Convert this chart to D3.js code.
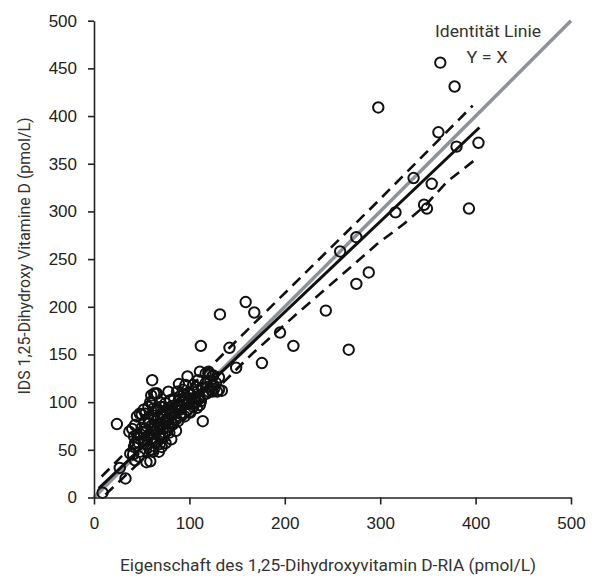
<!DOCTYPE html>
<html>
<head>
<meta charset="utf-8">
<script src="https://cdn.jsdelivr.net/npm/d3@7"></script>
<style>
  html, body { margin: 0; padding: 0; background: #fff; }
  svg { display: block; }
</style>
</head>
<body>
<svg id="chart" width="595" height="581"></svg>
<script>
// Method comparison: RIA (x) vs IDS (y), pmol/L
const ria = [
  363, 378, 298, 361, 380, 403, 335, 354, 316, 346, 349, 393, 275, 258, 288, 275,
  243, 159, 168, 195, 209, 267, 132, 112, 142, 149, 176, 124, 134, 114, 101, 120,
  117, 98, 109, 111, 120, 124, 131, 120, 111, 108, 100, 117, 125, 104, 104, 118,
  90, 80, 125, 129, 24, 33, 9, 27, 38, 43, 55, 61, 63, 78, 87, 81, 75, 69, 62, 59,
  37, 40, 43, 48, 41, 43, 45, 61, 64, 48, 45, 52, 57, 61, 75, 68, 60, 59, 66, 42,
  42, 47, 59, 54, 50, 71, 65,
  55, 60, 65, 70, 72, 75, 78, 82, 85, 88, 90, 92, 95, 97, 68, 66, 70, 74, 77, 83,
  86, 63, 58, 52, 56, 50, 53, 62, 67, 73, 80, 84, 94, 99, 102, 106, 110, 113, 96,
  93, 88, 76, 64, 71, 79, 85, 91, 100, 105, 57, 47, 52, 69, 82, 74, 62, 89, 107,
  60, 66,
  46, 49, 53, 56, 58, 61, 64, 67, 69, 72, 76, 79, 81, 84, 87, 89, 92, 95, 98, 101,
  103, 106, 109, 112, 115, 119, 122, 126, 128, 131, 73, 77, 86, 65, 70
];
const ids = [
  456, 431, 409, 383, 368, 372, 335, 329, 299, 307, 303, 303, 273, 258, 236, 224,
  196, 205, 194, 173, 159, 155, 192, 159, 157, 136, 141, 111, 112, 80, 89, 130,
  130, 127, 123, 132, 132, 127, 113, 111, 97, 94, 90, 120, 118, 118, 95, 109,
  106, 88, 128, 111, 77, 20, 5, 31, 46, 39, 37, 123, 109, 111, 111, 61, 57, 56, 48, 38,
  69, 72, 76, 48, 45, 57, 66, 50, 57, 88, 85, 92, 95, 99, 99, 48, 107, 100, 109, 64,
  53, 43, 50, 88, 87, 53, 109,
  70, 75, 80, 85, 72, 78, 82, 90, 95, 80, 92, 100, 85, 98, 65, 72, 62, 68, 74, 77,
  70, 62, 66, 60, 55, 73, 79, 86, 92, 95, 102, 104, 108, 110, 104, 100, 106, 115, 118,
  113, 97, 90, 70, 77, 68, 84, 88, 100, 111, 82, 62, 68, 100, 96, 85, 93, 119, 116,
  62, 58,
  58, 66, 72, 63, 78, 68, 76, 84, 74, 88, 82, 94, 78, 88, 92, 102, 95, 104, 92, 108,
  98, 104, 112, 101, 108, 116, 122, 114, 120, 126, 63, 70, 82, 92, 95
];

// Fitted regression line and its dashed confidence limits
const fitX = [5, 404];
const fitY = [9.5, 388];
const upperX = [8, 125, 153, 295, 397];
const upperY = [22, 140, 168, 308, 411];
const lowerX = [12, 136, 165, 213, 265, 297, 325, 348, 370, 403];
const lowerY = [3, 121, 150, 193, 238, 266, 287, 307, 331, 357];

// Line of identity
const identityX = [0, 500];
const identityY = [0, 500];

const tickValuesX = [0, 100, 200, 300, 400, 500];
const tickValuesY = [0, 50, 100, 150, 200, 250, 300, 350, 400, 450, 500];

const svg = d3.select("#chart");
const x = d3.scaleLinear().domain([0, 500]).range([94, 571]);
const y = d3.scaleLinear().domain([0, 500]).range([497.5, 20.7]);

const line = d3.line().x(d => x(d[0])).y(d => y(d[1]));
const zip = (a, b) => a.map((v, i) => [v, b[i]]);

// identity line
svg.append("path")
  .attr("d", line(zip(identityX, identityY)))
  .attr("fill", "none")
  .attr("stroke", "#8f9296")
  .attr("stroke-width", 3.5);

// confidence limits
[zip(upperX, upperY), zip(lowerX, lowerY)].forEach(pts => {
  svg.append("path")
    .attr("d", line(pts))
    .attr("fill", "none")
    .attr("stroke", "#111")
    .attr("stroke-width", 2.6)
    .attr("stroke-dasharray", "11,7");
});

// regression line
svg.append("path")
  .attr("d", line(zip(fitX, fitY)))
  .attr("fill", "none")
  .attr("stroke", "#111")
  .attr("stroke-width", 3);

// data points
svg.append("g")
  .selectAll("circle")
  .data(zip(ria, ids))
  .join("circle")
  .attr("cx", d => x(d[0]))
  .attr("cy", d => y(d[1]))
  .attr("r", 5.2)
  .attr("fill", "none")
  .attr("stroke", "#111")
  .attr("stroke-width", 2);

// axes
const axisFont = "'Liberation Sans', Arial, sans-serif";
const gx = svg.append("g")
  .attr("transform", `translate(0,${y(0)})`)
  .call(d3.axisBottom(x).tickValues(tickValuesX).tickSize(7).tickSizeOuter(0).tickPadding(12));
const gy = svg.append("g")
  .attr("transform", `translate(${x(0)},0)`)
  .call(d3.axisLeft(y).tickValues(tickValuesY).tickSize(6).tickSizeOuter(0).tickPadding(11));

[gx, gy].forEach(g => {
  g.select(".domain").attr("stroke", "#222").attr("stroke-width", 1.6);
  g.selectAll(".tick line").attr("stroke", "#222").attr("stroke-width", 1.6);
  g.selectAll(".tick text")
    .attr("font-family", axisFont)
    .attr("font-size", 17)
    .attr("fill", "#222");
});

// titles
const titleFont = "Roboto, 'Open Sans', sans-serif";
svg.append("text")
  .attr("x", 328).attr("y", 571)
  .attr("text-anchor", "middle")
  .attr("font-family", titleFont)
  .attr("font-size", 17)
  .attr("fill", "#333")
  .attr("textLength", 416)
  .attr("lengthAdjust", "spacingAndGlyphs")
  .text("Eigenschaft des 1,25-Dihydroxyvitamin D-RIA (pmol/L)");

svg.append("text")
  .attr("transform", "translate(30,256) rotate(-90)")
  .attr("text-anchor", "middle")
  .attr("font-family", titleFont)
  .attr("font-size", 17)
  .attr("fill", "#333")
  .attr("textLength", 277)
  .attr("lengthAdjust", "spacingAndGlyphs")
  .text("IDS 1,25-Dihydroxy Vitamine D (pmol/L)");

svg.append("text")
  .attr("x", 488).attr("y", 37)
  .attr("text-anchor", "middle")
  .attr("font-family", titleFont)
  .attr("font-size", 17)
  .attr("fill", "#333")
  .attr("textLength", 106)
  .attr("lengthAdjust", "spacingAndGlyphs")
  .text("Identität Linie");

svg.append("text")
  .attr("x", 487).attr("y", 63)
  .attr("text-anchor", "middle")
  .attr("font-family", titleFont)
  .attr("font-size", 17)
  .attr("fill", "#333")
  .attr("textLength", 41)
  .attr("lengthAdjust", "spacingAndGlyphs")
  .text("Y = X");
</script>
</body>
</html>
